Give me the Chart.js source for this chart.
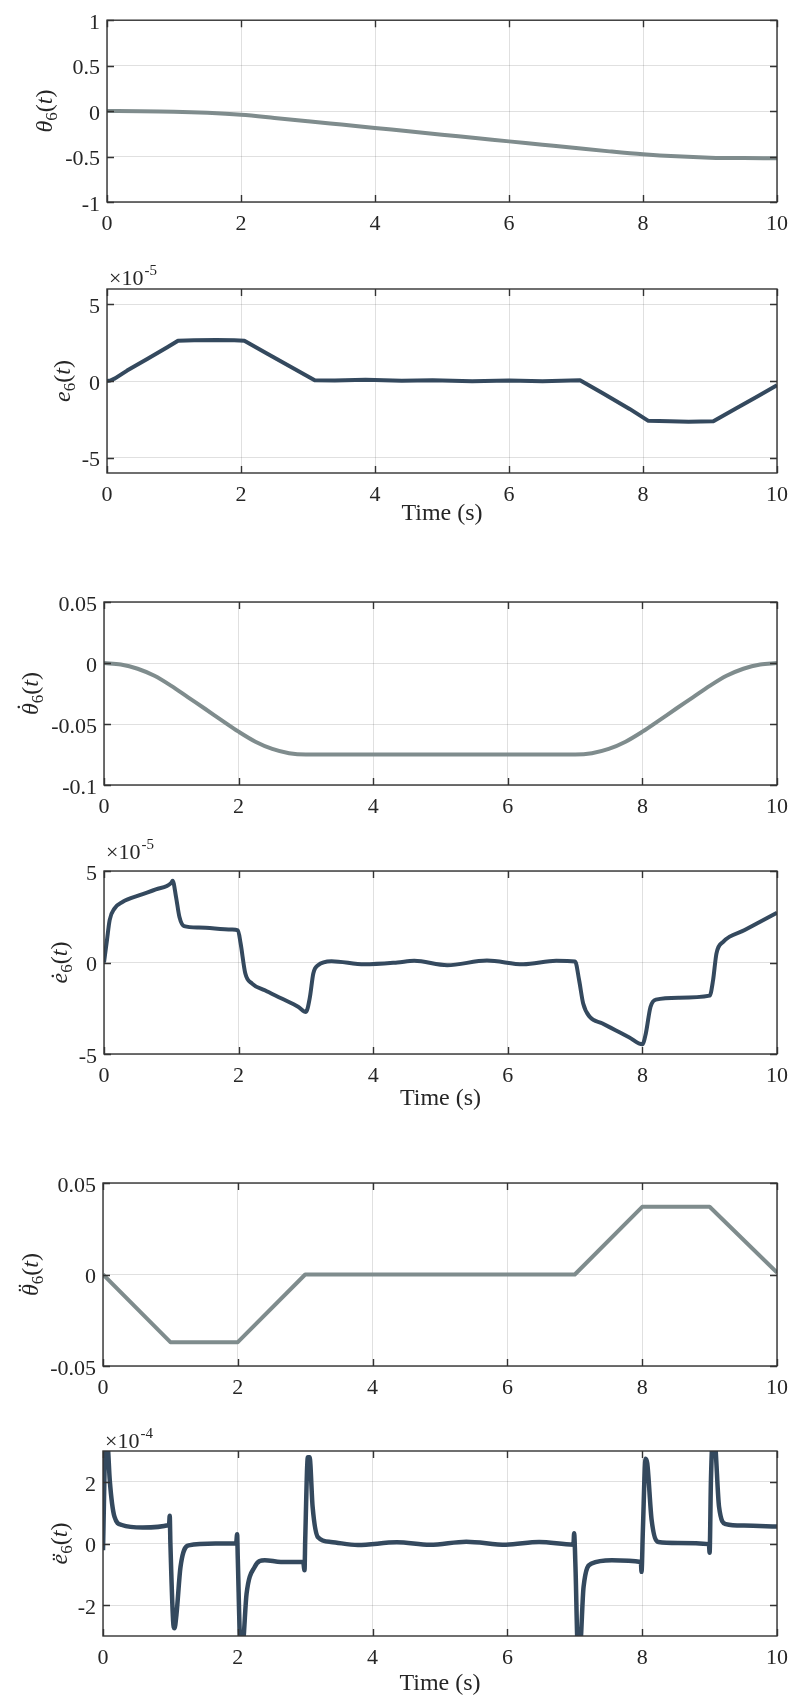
<!DOCTYPE html>
<html>
<head>
<meta charset="utf-8">
<script src="https://cdn.jsdelivr.net/npm/chart.js@4.4.1/dist/chart.umd.min.js"></script>
<style>
  html, body { margin: 0; padding: 0; background: #fff; }
  #page { position: relative; width: 797px; height: 1698px; overflow: hidden; background: #fff; }
  #page canvas { position: absolute; left: 0; }
</style>
</head>
<body>
<div id="page"></div>
<script>
// ============================================================
// Data
// ============================================================
const xTicks = [0, 2, 4, 6, 8, 10];
const xTickLabels = ['0', '2', '4', '6', '8', '10'];

// theta_6(t)
const thetaTime = [0, 0.5, 1, 1.5, 2, 2.5, 3, 3.5, 4, 4.5, 5, 5.5, 6, 6.5, 7, 7.5, 8, 8.5, 9, 9.5, 10];
const thetaValues = [0, -0.001, -0.006, -0.019, -0.041, -0.075, -0.111, -0.148, -0.185, -0.222, -0.259,
  -0.296, -0.333, -0.370, -0.407, -0.443, -0.475, -0.498, -0.512, -0.517, -0.518];
const thetaRange = [-1, 1];
const thetaTicks = [-1, -0.5, 0, 0.5, 1];
const thetaTickLabels = ['-1', '-0.5', '0', '0.5', '1'];

// e_6(t), x 1e-5
const errTime = [0, 0.05, 0.12, 0.3, 0.6, 0.9, 1.06, 1.3, 1.63, 1.9, 2.05, 2.4, 2.8, 3.1, 3.4, 3.86, 4.4,
  4.86, 5.45, 6.0, 6.5, 7.06, 7.4, 7.8, 8.08, 8.4, 8.68, 9.05, 9.4, 9.7, 10];
const errValues = [0, 0.03, 0.17, 0.68, 1.43, 2.2, 2.63, 2.65, 2.68, 2.66, 2.63, 1.76, 0.78, 0.05, 0.03, 0.08, 0.02,
  0.05, -0.01, 0.04, -0.01, 0.05, -0.8, -1.82, -2.6, -2.63, -2.66, -2.62, -1.76, -1.02, -0.28];
const errRange = [-6, 6];
const errTicks = [-5, 0, 5];
const errTickLabels = ['-5', '0', '5'];

// theta_6 dot
const dThetaTime = [0, 0.25, 0.5, 0.75, 1, 1.25, 1.5, 1.75, 2, 2.25, 2.5, 2.75, 3, 4, 5, 6, 7,
  7.25, 7.5, 7.75, 8, 8.25, 8.5, 8.75, 9, 9.25, 9.5, 9.75, 10];
const dThetaValues = [0, -0.0012, -0.0047, -0.0105, -0.0188, -0.0282, -0.0375, -0.047, -0.0563, -0.0645, -0.0704,
  -0.0739, -0.075, -0.075, -0.075, -0.075, -0.075,
  -0.0739, -0.0704, -0.0645, -0.0563, -0.047, -0.0375, -0.0282, -0.0188, -0.0105, -0.0047, -0.0012, 0];
const dThetaRange = [-0.1, 0.05];
const dThetaTicks = [-0.1, -0.05, 0, 0.05];
const dThetaTickLabels = ['-0.1', '-0.05', '0', '0.05'];

// e_6 dot, x 1e-5
const dErrTime = [0, 0.044, 0.084, 0.158, 0.28, 0.53, 0.77, 1.0, 1.02, 1.07, 1.12, 1.19, 1.41, 1.9, 1.99,
  2.03, 2.1, 2.2, 2.39, 2.64, 2.89, 3.0, 3.06, 3.11, 3.18, 3.38, 3.87, 4.36, 4.61, 5.1, 5.69, 6.23,
  6.72, 7.0, 7.06, 7.12, 7.22, 7.4, 7.6, 7.8, 8.0, 8.05, 8.12, 8.2, 8.54, 9.0, 9.05, 9.1, 9.2, 9.52, 10.0];
const dErrValues = [0, 1.22, 2.32, 2.96, 3.32, 3.68, 4.0, 4.35, 4.47, 3.59, 2.5, 1.99, 1.91, 1.8, 1.76,
  1.04, -0.6, -1.15, -1.52, -1.97, -2.43, -2.7, -1.88, -0.6, -0.15, 0.07, -0.1, 0, 0.09, -0.15, 0.11, -0.1,
  0.09, 0.05, -0.97, -2.24, -2.98, -3.32, -3.7, -4.08, -4.47, -3.89, -2.43, -2.03, -1.92, -1.81, -0.97, 0.49, 1.13, 1.77, 2.72];
const dErrRange = [-5, 5];
const dErrTicks = [-5, 0, 5];
const dErrTickLabels = ['-5', '0', '5'];

// theta_6 double dot
const ddThetaTime = [0, 1, 2, 3, 7, 8, 9, 10];
const ddThetaValues = [0, -0.037, -0.037, 0, 0, 0.037, 0.037, 0.001];
const ddThetaRange = [-0.05, 0.05];
const ddThetaTicks = [-0.05, 0, 0.05];
const ddThetaTickLabels = ['-0.05', '0', '0.05'];

// e_6 double dot, x 1e-4
const ddErrTime = [0, 0.04, 0.07, 0.1, 0.17, 0.28, 0.59, 0.98, 0.99, 1.0, 1.04, 1.06, 1.09, 1.15, 1.27, 1.67,
  1.975, 1.99, 2.0, 2.04, 2.07, 2.13, 2.25, 2.4, 2.64, 2.97,
  2.99, 3.0, 3.04, 3.065, 3.11, 3.19, 3.38, 3.78, 4.36, 4.85, 5.39, 5.98, 6.47, 6.98,
  6.99, 7.01, 7.045, 7.075, 7.13, 7.25, 7.55, 7.98,
  7.99, 8.01, 8.05, 8.075, 8.14, 8.24, 8.53, 8.99,
  9.0, 9.02, 9.05, 9.08, 9.14, 9.24, 9.51, 10];
const ddErrValues = [-0.22, 3.4, 3.2, 2.06, 0.87, 0.6, 0.52, 0.6, 0.9, 0.0, -2.5, -2.75, -2.3, -0.76, -0.06, 0.0,
  0.0, 0.3, -0.5, -3.3, -3.3, -1.63, -0.76, -0.54, -0.6, -0.6,
  -0.87, 0.1, 2.8, 2.8, 1.19, 0.2, 0.05, -0.05, 0.04, -0.04, 0.06, -0.04, 0.05, -0.04,
  0.33, -0.76, -3.4, -3.4, -1.41, -0.65, -0.54, -0.6,
  -0.92, 0.43, 2.75, 2.6, 0.76, 0.05, 0.02, -0.02,
  -0.3, 2.06, 3.5, 3.3, 1.19, 0.63, 0.58, 0.55];
const ddErrRange = [-3, 3];
const ddErrTicks = [-2, 0, 2];
const ddErrTickLabels = ['-2', '0', '2'];

// ============================================================
// Style
// ============================================================
const PAGE_W = 797;
const SERIF = '"Liberation Serif", "Times New Roman", serif';
const TEXT = '#262626';
const AXIS = '#333333';
const GRID = 'rgba(38, 38, 38, 0.14)';
const LIGHT = '#7f8c8d';
const DARK = '#34495e';
const TICK_LEN = 7;
const BOTTOM_SPACE = 62;

Chart.defaults.font.family = SERIF;
Chart.defaults.color = TEXT;

const panels = [
  { time: thetaTime, values: thetaValues, range: thetaRange, ticks: thetaTicks, labels: thetaTickLabels,
    color: LIGHT, width: 4, smooth: true, sym: 'θ', accent: '', labelX: 52, exponent: null,
    timeTitle: false, box: { left: 107, right: 779, top: 17, bottom: 202 } },
  { time: errTime, values: errValues, range: errRange, ticks: errTicks, labels: errTickLabels,
    color: DARK, width: 4, smooth: false, sym: 'e', accent: '', labelX: 70, exponent: '-5', expLift: 4,
    timeTitle: true, titlePad: 7, box: { left: 107, right: 779, top: 289, bottom: 473 } },
  { time: dThetaTime, values: dThetaValues, range: dThetaRange, ticks: dThetaTicks, labels: dThetaTickLabels,
    color: LIGHT, width: 4, smooth: true, sym: 'θ', accent: '˙', labelX: 38, exponent: null,
    timeTitle: false, box: { left: 104, right: 782, top: 602, bottom: 785 } },
  { time: dErrTime, values: dErrValues, range: dErrRange, ticks: dErrTicks, labels: dErrTickLabels,
    color: DARK, width: 4, smooth: true, sym: 'e', accent: '˙', labelX: 67, exponent: '-5', expLift: 12,
    timeTitle: true, titlePad: 3, box: { left: 104, right: 782, top: 871, bottom: 1054 } },
  { time: ddThetaTime, values: ddThetaValues, range: ddThetaRange, ticks: ddThetaTicks, labels: ddThetaTickLabels,
    color: LIGHT, width: 4, smooth: false, sym: 'θ', accent: '¨', labelX: 38, exponent: null,
    timeTitle: false, box: { left: 103, right: 783, top: 1183, bottom: 1366 } },
  { time: ddErrTime, values: ddErrValues, range: ddErrRange, ticks: ddErrTicks, labels: ddErrTickLabels,
    color: DARK, width: 4.5, smooth: true, sym: 'e', accent: '¨', labelX: 67, exponent: '-4', expLift: 3,
    timeTitle: true, titlePad: 0, box: { left: 103, right: 783, top: 1451, bottom: 1636 } },
];

// ============================================================
// Helpers
// ============================================================
// y label like  \dot{\theta}_6(t), drawn rotated
function drawAxisLabel(ctx, baseX, midY, sym, accent) {
  const big = 24, sub = 17;
  const parts = [
    { s: sym, font: `italic ${big}px ${SERIF}`, dy: 0 },
    { s: '6', font: `${sub}px ${SERIF}`, dy: 5 },
    { s: '(', font: `${big}px ${SERIF}`, dy: 0 },
    { s: 't', font: `italic ${big}px ${SERIF}`, dy: 0 },
    { s: ')', font: `${big}px ${SERIF}`, dy: 0 },
  ];
  ctx.save();
  ctx.translate(baseX, midY);
  ctx.rotate(-Math.PI / 2);
  ctx.fillStyle = TEXT;
  ctx.textBaseline = 'alphabetic';
  ctx.textAlign = 'left';
  let total = 0;
  parts.forEach(p => { ctx.font = p.font; p.w = ctx.measureText(p.s).width; total += p.w; });
  let x = -total / 2;
  parts.forEach((p, i) => {
    ctx.font = p.font;
    ctx.fillText(p.s, x, p.dy);
    if (i === 0 && accent) {
      ctx.font = `${big}px ${SERIF}`;
      ctx.textAlign = 'center';
      const lift = sym === 'θ' ? -5 : 0;
      ctx.fillText(accent, x + p.w / 2 + 2, lift);
      ctx.textAlign = 'left';
    }
    x += p.w;
  });
  ctx.restore();
}

// MATLAB-style box, inward ticks, exponent and y label
const matlabAxes = {
  id: 'matlabAxes',
  afterDraw(chart, args, opts) {
    const { ctx, chartArea: a, scales: { x, y } } = chart;
    ctx.save();
    ctx.strokeStyle = AXIS;
    ctx.lineWidth = 1.4;
    ctx.beginPath();
    x.ticks.forEach(t => {
      const px = Math.round(x.getPixelForValue(t.value)) + 0.5;
      ctx.moveTo(px, a.bottom); ctx.lineTo(px, a.bottom - TICK_LEN);
      ctx.moveTo(px, a.top); ctx.lineTo(px, a.top + TICK_LEN);
    });
    y.ticks.forEach(t => {
      const py = Math.round(y.getPixelForValue(t.value)) + 0.5;
      ctx.moveTo(a.left, py); ctx.lineTo(a.left + TICK_LEN, py);
      ctx.moveTo(a.right, py); ctx.lineTo(a.right - TICK_LEN, py);
    });
    ctx.stroke();
    ctx.strokeRect(a.left, a.top, a.right - a.left, a.bottom - a.top);

    if (opts.exponent) {
      ctx.fillStyle = TEXT;
      ctx.textAlign = 'left';
      ctx.textBaseline = 'alphabetic';
      ctx.font = `22px ${SERIF}`;
      const base = a.top - opts.expLift;
      ctx.fillText('×10', a.left + 2, base);
      const w = ctx.measureText('×10').width;
      ctx.font = `15px ${SERIF}`;
      ctx.fillText(opts.exponent, a.left + 3 + w, base - 10);
    }
    drawAxisLabel(ctx, opts.labelX, (a.top + a.bottom) / 2, opts.sym, opts.accent);
    ctx.restore();
  }
};

// ============================================================
// Build one chart per panel
// ============================================================
const page = document.getElementById('page');

panels.forEach(p => {
  const b = p.box;
  const canvasTop = Math.max(0, b.top - 45);
  const padTop = b.top - canvasTop;
  const h = padTop + (b.bottom - b.top) + BOTTOM_SPACE;

  const canvas = document.createElement('canvas');
  canvas.width = PAGE_W;
  canvas.height = h;
  canvas.style.top = canvasTop + 'px';
  canvas.style.width = PAGE_W + 'px';
  canvas.style.height = h + 'px';
  page.appendChild(canvas);

  new Chart(canvas, {
    type: 'line',
    data: {
      datasets: [{
        data: p.time.map((t, i) => ({ x: t, y: p.values[i] })),
        borderColor: p.color,
        borderWidth: p.width,
        pointRadius: 0,
        fill: false,
        tension: 0,
        cubicInterpolationMode: p.smooth ? 'monotone' : 'default',
        borderJoinStyle: 'round',
        clip: 0,
      }],
    },
    options: {
      responsive: false,
      devicePixelRatio: 1,
      animation: false,
      layout: { padding: { left: 0, top: padTop, right: PAGE_W - b.right, bottom: 0 } },
      plugins: {
        legend: { display: false },
        tooltip: { enabled: false },
        matlabAxes: {
          sym: p.sym, accent: p.accent, labelX: p.labelX,
          exponent: p.exponent, expLift: p.expLift,
        },
      },
      scales: {
        x: {
          type: 'linear',
          min: 0,
          max: 10,
          afterBuildTicks: s => { s.ticks = xTicks.map(v => ({ value: v })); },
          afterFit: s => { s.height = BOTTOM_SPACE; },
          grid: { color: GRID, lineWidth: 1, drawTicks: false },
          border: { display: false },
          ticks: {
            autoSkip: false,
            maxRotation: 0,
            padding: 9,
            color: TEXT,
            font: { size: 22 },
            callback: v => xTickLabels[xTicks.indexOf(v)],
          },
          title: {
            display: p.timeTitle,
            text: 'Time (s)',
            color: TEXT,
            font: { size: 24 },
            padding: { top: 0, bottom: p.titlePad || 0 },
          },
        },
        y: {
          type: 'linear',
          min: p.range[0],
          max: p.range[1],
          afterBuildTicks: s => { s.ticks = p.ticks.map(v => ({ value: v })); },
          afterFit: s => { s.width = b.left; },
          grid: { color: GRID, lineWidth: 1, drawTicks: false },
          border: { display: false },
          ticks: {
            padding: 7,
            labelOffset: 3,
            color: TEXT,
            font: { size: 22 },
            callback: v => p.labels[p.ticks.indexOf(v)],
          },
        },
      },
    },
    plugins: [matlabAxes],
  });
});
</script>
</body>
</html>
